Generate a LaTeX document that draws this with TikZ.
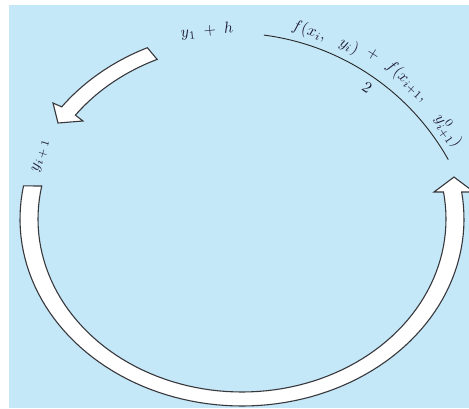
\documentclass[tikz,border=0pt]{standalone}
\usepackage{amsmath}
\definecolor{bgblue}{RGB}{197,232,249}
\definecolor{inkc}{RGB}{30,28,50}
\definecolor{edgec}{RGB}{55,55,60}
\tikzset{
  band/.style={fill=white,draw=edgec,line width=1.1pt,line join=miter},
  lbl/.style={text=inkc,inner sep=0pt,scale=1.6},
  thinarc/.style={draw=black!85,line width=0.9pt}
}
\begin{document}
\begin{tikzpicture}[x=1pt,y=-1pt]
\useasboundingbox (0,0) rectangle (469,408);
\fill[bgblue] (9,5) rectangle (469,408);
\begin{scope}
\clip (9,5) rectangle (469,408);
% big lower arc arrow
\path[band] plot[domain=-8.3:190.2,samples=90,variable=\t] ({242+222*cos(\t)},{219+187*sin(\t)})
  -- plot[domain=191:-9,samples=90,variable=\t] ({242+204*cos(\t)},{219+173*sin(\t)})
  -- (434,192) coordinate (hb1) -- (454,177) coordinate (tipR) -- (474,192) coordinate (hb2) -- cycle;
\end{scope}
% upper-left arrow
\path[band] plot[domain=245:216.4,samples=40,variable=\t] ({242+224*cos(\t)},{219+189*sin(\t)})
  -- (53,103) coordinate (lb1) -- (58,123) coordinate (tipL) -- (83,121) coordinate (lb2)
  -- plot[domain=216.4:245.8,samples=40,variable=\t] ({242+207*cos(\t)},{219+175*sin(\t)}) -- cycle;
% thin fraction arc
\path[thinarc] plot[domain=-82.6:-29.3,samples=60,variable=\t] ({232+248*cos(\t)},{281+248*sin(\t)});
% labels
\node[lbl,rotate=6] (yh) at (207,31) {$y_1 \;+\; h$};
\node[lbl,rotate=73] (yip) at (41,156) {$y_{i\,+\,1}$};
\node[lbl,rotate=-17] (n1) at (309,31) {$f(x_i,$};
\node[lbl,rotate=-27] (n2) at (349,46) {$y_i)$};
\node[lbl,rotate=-32] (n3) at (373,54) {$+$};
\node[lbl,rotate=-42] (n4) at (407,81) {$f(x_{i+1},$};
\node[lbl,rotate=-55] (n5) at (448,131) {$y^0_{i+1})$};
\node[lbl,rotate=-35] (den) at (367,88) {$2$};
\end{tikzpicture}
\end{document}
